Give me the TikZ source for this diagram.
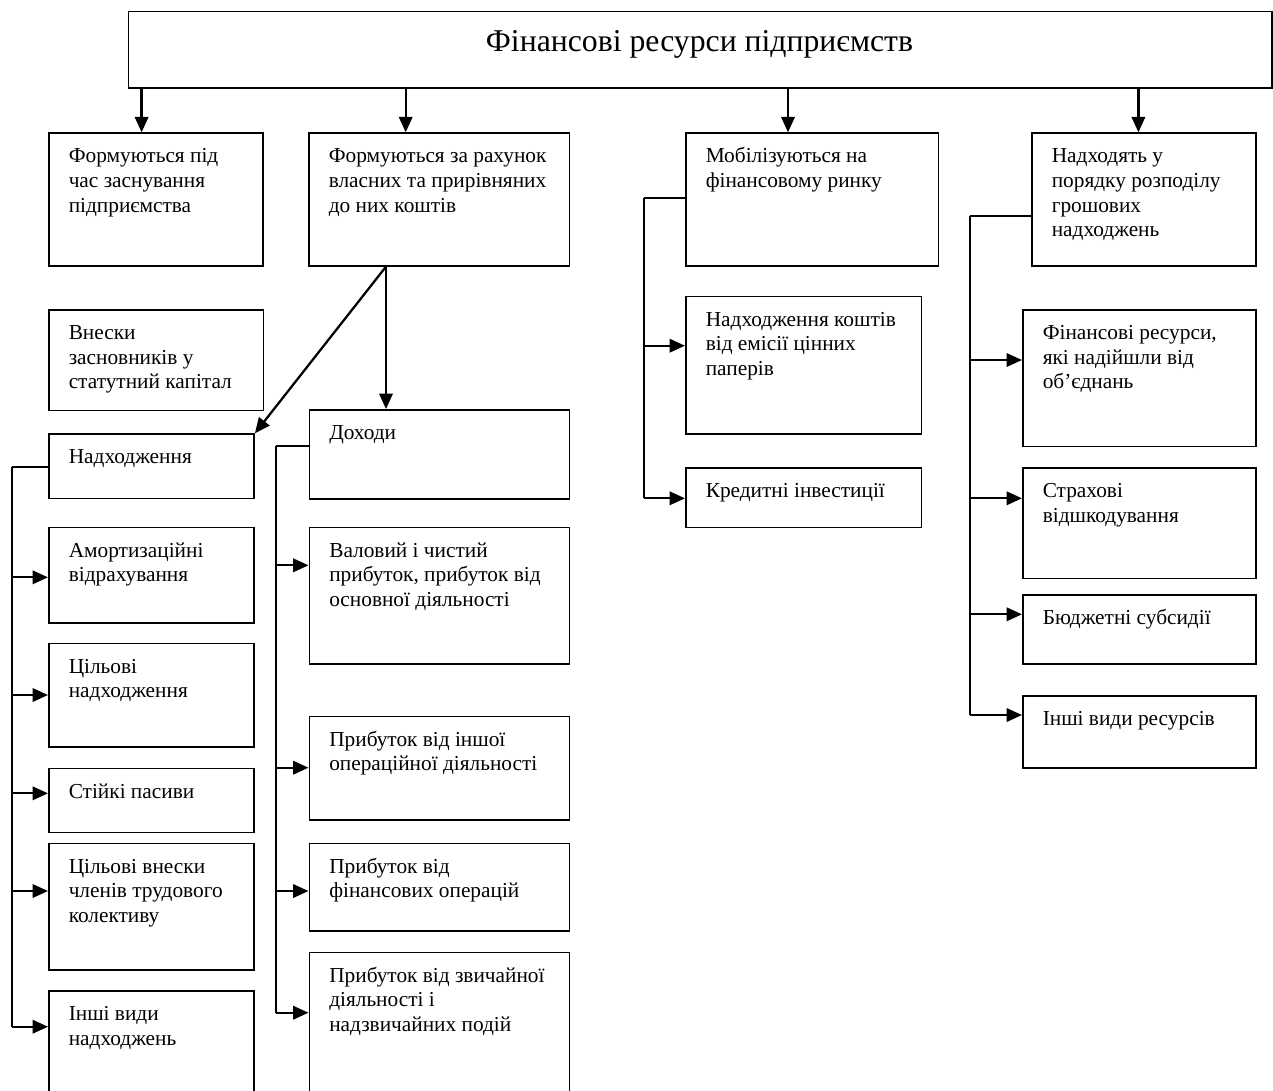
\documentclass[tikz,border=0pt]{standalone}
\usepackage{fontspec}
\setmainfont{Liberation Serif}
\usetikzlibrary{arrows.meta,calc}
\tikzset{
 boxst/.style={draw, line width=1.2pt, anchor=north west, inner sep=0pt},
 txtst/.style={anchor=base west, inner sep=0pt, font=\fontsize{16}{18.45}\selectfont},
 arr/.style={line width=1.7pt, -{Triangle[length=11.5pt,width=10pt]}},
 conn/.style={line width=1.5pt},
}
\newcommand{\fbx}[6]{%
  \pgfmathsetmacro{\bw}{(#4-#2)*0.75}%
  \pgfmathsetmacro{\bh}{(#5-#3)*0.75}%
  \node[boxst, minimum width=\bw pt, minimum height=\bh pt] (#1) at (#2,#3) {};
  \node[txtst] (#1-t) at ($(#1.north west)+(20.5,30.5)$) {\begin{tabular}[t]{@{}l@{}}#6\end{tabular}};
}
\begin{document}
\begin{tikzpicture}[x=0.75pt,y=-0.75pt]
\useasboundingbox (0,0) rectangle (1273,1090);
\fill[white] (0,0) rectangle (1273,1090);
\clip (0,0) rectangle (1273,1090);

% top
\pgfmathsetmacro{\tw}{(1271-127.8)*0.75}
\pgfmathsetmacro{\th}{(87.3-10.7)*0.75}
\node[boxst, minimum width=\tw pt, minimum height=\th pt] (top) at (127.8,10.7) {};
\node[anchor=base, inner sep=0pt, font=\fontsize{23.8}{28}\selectfont] (title) at (699.5,51.5) {Фінансові ресурси підприємств};

% level 1
\fbx{b1}{48}{132.3}{262.4}{265}{Формуються під\\час заснування\\підприємства}
\fbx{b2}{308}{132.3}{568.6}{265}{Формуються за рахунок\\власних та прирівняних\\до них коштів}
\fbx{b3}{685}{132.3}{937.5}{265}{Мобілізуються на\\фінансовому ринку}
\fbx{b4}{1031}{132.3}{1255}{265}{Надходять у\\порядку розподілу\\грошових\\надходжень}

% left column
\fbx{vnes}{48}{309}{262.5}{409.7}{Внески\\засновників у\\статутний капітал}
\fbx{nad}{48}{433.3}{253.3}{497.7}{Надходження}
\fbx{amort}{48}{526.7}{253}{622.3}{Амортизаційні\\відрахування}
\fbx{cil}{48}{642.7}{253}{746}{Цільові\\надходження}
\fbx{stiy}{48}{767.7}{253}{831.7}{Стійкі пасиви}
\fbx{cilvn}{48}{842.7}{253}{969.3}{Цільові внески\\членів трудового\\колективу}
\fbx{inshn}{48}{990}{253}{1110}{Інші види\\надходжень}

% middle column
\fbx{doh}{308.5}{409}{568.7}{498}{Доходи}
\fbx{val}{308.5}{526.7}{568.7}{663.3}{Валовий і чистий\\прибуток, прибуток від\\основної діяльності}
\fbx{pra}{308.5}{715.7}{568.7}{819.3}{Прибуток від іншої\\операційної діяльності}
\fbx{prb}{308.5}{842.7}{568.7}{930}{Прибуток від\\фінансових операцій}
\fbx{prc}{308.5}{951.7}{568.7}{1110}{Прибуток від звичайної\\діяльності і\\надзвичайних подій}

% column 3
\fbx{emis}{685}{295.7}{920.6}{433.3}{Надходження коштів\\від емісії цінних\\паперів}
\fbx{kred}{685}{467}{920.6}{526.7}{Кредитні інвестиції}

% column 4
\fbx{finr}{1022}{309}{1255}{445.7}{Фінансові ресурси,\\які надійшли від\\об’єднань}
\fbx{strakh}{1022}{467}{1255}{577.7}{Страхові\\відшкодування}
\fbx{budzh}{1022}{594}{1255}{663.3}{Бюджетні субсидії}
\fbx{inshr}{1022}{695}{1255}{767.3}{Інші види ресурсів}

% top arrows
\coordinate (a1) at ($(b1.north west)+(93.6,0)$);
\coordinate (a2) at ($(b2.north west)+(97.7,0)$);
\coordinate (a3) at ($(b3.north west)+(103,0)$);
\coordinate (a4) at ($(b4.north west)+(107.4,0)$);
\foreach \a in {a1,a2,a3,a4} \draw[arr] (\a |- top.south) -- (\a);

% from b2
\coordinate (s2) at ($(b2.south west)+(78,0)$);
\draw[arr] (s2) -- (nad.north east);
\draw[arr] (s2) -- (s2 |- doh.north);

% left bracket
\draw[conn] ($(nad.north west)+(0,33.4)$) -- ++(-36,0) coordinate (vL);
\coordinate (iA) at ($(amort.north west)+(0,50.6)$);
\coordinate (iB) at ($(cil.north west)+(0,52.3)$);
\coordinate (iC) at ($(stiy.north west)+(0,25.6)$);
\coordinate (iD) at ($(cilvn.north west)+(0,48.3)$);
\coordinate (iE) at ($(inshn.north west)+(0,36.7)$);
\draw[conn] (vL) -- (vL |- iE);
\foreach \c in {iA,iB,iC,iD,iE} \draw[arr] (vL |- \c) -- (\c);

% middle bracket
\draw[conn] ($(doh.north west)+(0,37)$) -- ++(-32.2,0) coordinate (vM);
\coordinate (jA) at ($(val.north west)+(0,38.6)$);
\coordinate (jB) at ($(pra.north west)+(0,52)$);
\coordinate (jC) at ($(prb.north west)+(0,48.3)$);
\coordinate (jD) at ($(prc.north west)+(0,61)$);
\draw[conn] (vM) -- (vM |- jD);
\foreach \c in {jA,jB,jC,jD} \draw[arr] (vM |- \c) -- (\c);

% column 3 bracket
\draw[conn] ($(b3.north west)+(0,65.4)$) -- ++(-41,0) coordinate (v3);
\coordinate (kA) at ($(emis.north west)+(0,50)$);
\coordinate (kB) at ($(kred.north west)+(0,31.3)$);
\draw[conn] (v3) -- (v3 |- kB);
\foreach \c in {kA,kB} \draw[arr] (v3 |- \c) -- (\c);

% column 4 bracket
\draw[conn] ($(b4.north west)+(0,83.4)$) -- ++(-61,0) coordinate (v4);
\coordinate (mA) at ($(finr.north west)+(0,51)$);
\coordinate (mB) at ($(strakh.north west)+(0,31.3)$);
\coordinate (mC) at ($(budzh.north west)+(0,20.3)$);
\coordinate (mD) at ($(inshr.north west)+(0,20)$);
\draw[conn] (v4) -- (v4 |- mD);
\foreach \c in {mA,mB,mC,mD} \draw[arr] (v4 |- \c) -- (\c);
\end{tikzpicture}
\end{document}
